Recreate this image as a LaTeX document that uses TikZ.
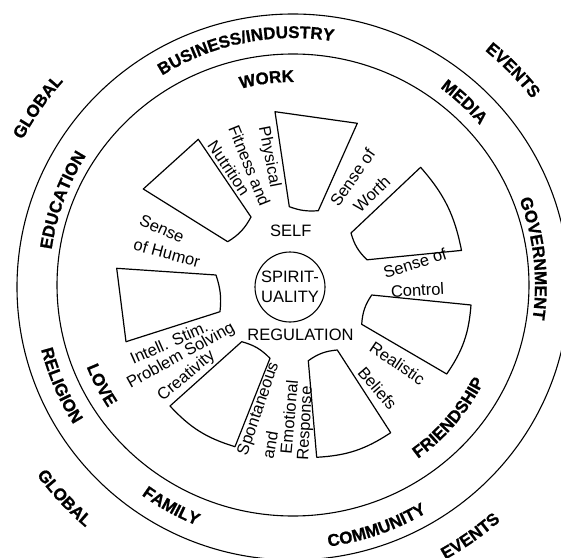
\documentclass[tikz,border=0pt]{standalone}
\usepackage{fontspec}
\setmainfont{Liberation Sans}
\newfontfamily\heavyfamily{Liberation Sans Bold}[FakeBold=0.8]
\usetikzlibrary{decorations.text}
\newcommand\ringfont{\heavyfamily\fontsize{17}{20}\selectfont}
\newcommand\spokefont{\fontsize{16.5}{20}\selectfont}
\tikzset{
  ringlabel/.style={decorate,decoration={text along path,text align=center,text={|\ringfont|#1}}},
  spoke/.style={font=\spokefont,inner sep=0pt},
  petal/.style={line width=1.2pt,line join=round},
}
\begin{document}
\begin{tikzpicture}[x=1pt,y=1pt,line width=1.1pt]
\useasboundingbox (-293,-272) rectangle (268,285);

\draw (0,-2) ellipse [x radius=276,y radius=273];
\draw (0,0) ellipse [x radius=236,y radius=231];

\node[circle,draw,minimum size=70pt,inner sep=0pt,align=center,font=\spokefont] (hub) at (-3,-2) {SPIRIT-\\UALITY};

\draw[petal] (-18,173.3) -- (64.3,161.7) -- (25.3,74.3) to[bend left=12] (-3.7,78.3) -- cycle;
\draw[petal] (127.6,117.7) to[bend left=15] (168.5,34.6) -- (74,25.2) to[bend left=15] (58,52) -- cycle;
\draw[petal] (178,-20) to[bend left=15] (153.7,-89) -- (68.7,-39.3) to[bend left=15] (78.7,-10) -- cycle;
\draw[petal] (97.7,-147.7) to[bend left=15] (23.7,-172.3) -- (15.3,-75.7) to[bend left=15] (44.3,-65) -- cycle;
\draw[petal] (-58,-161.7) to[bend left=15] (-123,-121) -- (-51.3,-56.7) to[bend left=15] (-23,-73.3) -- cycle;
\draw[petal] (-167,-56.7) -- (-176.3,16.7) -- (-77,10) to[bend left=12] (-73,-26.7) -- cycle;
\draw[petal] (-149.7,96) -- (-94.7,145.7) -- (-42,68) to[bend left=15] (-65.3,43.3) -- cycle;

\node[spoke,rotate=-79] (phys) at (-24,128) {Physical};
\node[spoke,rotate=-68] (fitness) at (-43.5,119.5) {Fitness and};
\node[spoke,rotate=-56] (nutr) at (-64,117) {Nutrition};
\node[spoke,rotate=55] (worth1) at (59.5,107.5) {Sense of};
\node[spoke,rotate=44] (worth2) at (78.7,91) {Worth};
\node[spoke,rotate=17.5] (control1) at (122,22) {Sense of};
\node[spoke,rotate=3] (control2) at (124.5,-5) {Control};
\node[spoke,rotate=-34] (real1) at (104.5,-78.3) {Realistic};
\node[spoke,rotate=-49] (real2) at (84.5,-103.3) {Beliefs};
\node[spoke,rotate=71] (spont1) at (-34,-124) {Spontaneous};
\node[spoke,rotate=80] (spont2) at (-23,-160) {and};
\node[spoke,rotate=85] (spont3) at (-4,-132) {Emotional};
\node[spoke,rotate=87] (spont4) at (13,-138.5) {Response};
\node[spoke,rotate=24] (intel1) at (-124,-57.5) {Intell. Stim.};
\node[spoke,rotate=29] (intel2) at (-112,-71) {Problem Solving};
\node[spoke,rotate=40] (intel3) at (-106.5,-91) {Creativity};
\node[spoke,rotate=-24] (humor1) at (-131,56) {Sense};
\node[spoke,rotate=-15] (humor2) at (-126,32) {of Humor};
\node[spoke] (self) at (-2.3,54.3) {SELF};
\node[spoke] (regul) at (7.5,-50) {REGULATION};

\path[ringlabel=BUSINESS/INDUSTRY] (151.3:247) arc[start angle=151.3,end angle=51.3,radius=247];
\path[ringlabel=WORK] (147.3:203) arc[start angle=147.3,end angle=47.3,radius=203];
\path[ringlabel=MEDIA] (96.9:246) arc[start angle=96.9,end angle=-3.1,radius=246];
\path[ringlabel=EVENTS] (94.3:303) arc[start angle=94.3,end angle=-5.7,radius=303];
\path[ringlabel=GOVERNMENT] (56.3:242) arc[start angle=56.3,end angle=-43.7,radius=242];
\path[ringlabel=EDUCATION] (209.8:244) arc[start angle=209.8,end angle=109.8,radius=244];
\path[ringlabel=GLOBAL] (195.1:307) arc[start angle=195.1,end angle=95.1,radius=307];
\path[ringlabel=COMMUNITY] (-120.9:264) arc[start angle=-120.9,end angle=-20.9,radius=264];
\path[ringlabel=FAMILY] (-168.8:259) arc[start angle=-168.8,end angle=-68.8,radius=259];
\path[ringlabel=RELIGION] (-206.6:260) arc[start angle=-206.6,end angle=-106.6,radius=260];
\path[ringlabel=LOVE] (-202.4:222) arc[start angle=-202.4,end angle=-102.4,radius=222];
\path[ringlabel=FRIENDSHIP] (-90.5:214) arc[start angle=-90.5,end angle=9.5,radius=214];
\path[ringlabel=EVENTS] (-104.8:314) arc[start angle=-104.8,end angle=-4.8,radius=314];
\path[ringlabel=GLOBAL] (-187:319) arc[start angle=-187,end angle=-87,radius=319];
\end{tikzpicture}
\end{document}
